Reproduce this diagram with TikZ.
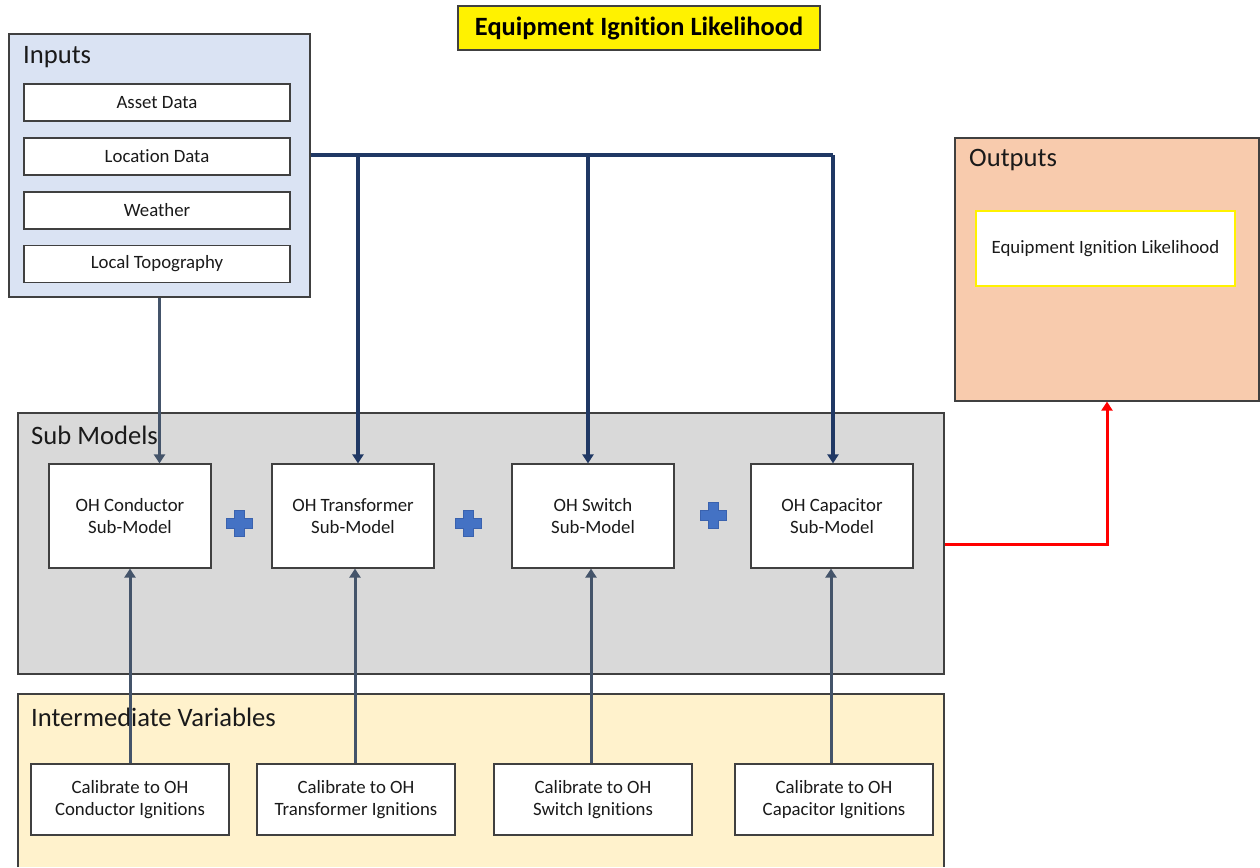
\documentclass[tikz,border=0pt]{standalone}
\usepackage{fontspec}
\setmainfont{Carlito}[Ligatures=NoCommon]
\usetikzlibrary{arrows.meta,calc}
\definecolor{boxline}{HTML}{404040}
\definecolor{txt}{HTML}{1A1A1A}
\definecolor{inpfill}{HTML}{DAE3F3}
\definecolor{outfill}{HTML}{F8CBAD}
\definecolor{subfill}{HTML}{D9D9D9}
\definecolor{intfill}{HTML}{FFF2CC}
\definecolor{grayblue}{HTML}{44546A}
\definecolor{darkblue}{HTML}{203864}
\definecolor{plusblue}{HTML}{4472C4}
\definecolor{plusedge}{HTML}{3A62AE}
\begin{document}
\begin{tikzpicture}[x=1pt,y=-1pt,
  box/.style={draw=boxline, line width=1.2pt, fill=white, text=txt, align=center,
    inner sep=0pt, font=\fontsize{18.8}{22}\selectfont},
  inbox/.style={box, minimum width=266pt, minimum height=37pt},
  subbox/.style={box, minimum width=162pt, minimum height=104pt},
  calbox/.style={box, minimum width=198pt, minimum height=71pt},
  grp/.style={draw=boxline, line width=1.2pt},
  hdr/.style={anchor=west, text=txt, inner sep=0pt, font=\fontsize{26.6}{30}\selectfont},
  arr/.style={line width=3pt, -{Triangle[length=9pt,width=11pt]}},
  plusshape/.style={fill=plusblue, draw=plusedge, line width=0.6pt}
]
\useasboundingbox (0,0) rectangle (1260,867);
\fill[white] (0,0) rectangle (1260,867);

% title
\node[draw=boxline, line width=1.2pt, fill=yellow, minimum width=362pt, minimum height=44pt,
  inner sep=0pt, font=\bfseries\fontsize{26.4}{30}\selectfont, text=black] (title) at (639,28)
  {Equipment Ignition Likelihood};

% group boxes
\node[grp, fill=inpfill, minimum width=301pt, minimum height=263pt, inner sep=0pt] (inputs) at (159.5,165.5) {};
\node[grp, fill=outfill, minimum width=304pt, minimum height=263pt, inner sep=0pt] (outputs) at (1107,269.5) {};
\node[grp, fill=subfill, minimum width=926pt, minimum height=261pt, inner sep=0pt] (submodels) at (481,543.5) {};
\fill[intfill] (18,694) rectangle (944,867);
\draw[boxline, line width=1.2pt] (18,867) -- (18,694) -- (944,694) -- (944,867);

% headers
\node[hdr] (hin) at (23,57) {Inputs};
\node[hdr] (hout) at (969,160) {Outputs};
\node[hdr] (hsub) at (31,435) {Sub Models};
\node[hdr] (hint) at (31,717) {Intermediate Variables};

% inputs
\node[inbox] (asset) at (157,102.5) {Asset Data};
\node[inbox] (loc) at (157,156.5) {Location Data};
\node[inbox] (weather) at (157,210.5) {Weather};
\node[inbox] (topo) at (157,264) {Local Topography};

% output
\node[box, draw=yellow, line width=1.5pt, minimum width=259pt, minimum height=75pt] (eil) at (1105.5,248.5)
  {Equipment Ignition Likelihood};

% sub models
\node[subbox] (sm1) at (130,516) {OH Conductor\\Sub-Model};
\node[subbox] (sm2) at (353,516) {OH Transformer\\Sub-Model};
\node[subbox] (sm3) at (593,516) {OH Switch\\Sub-Model};
\node[subbox] (sm4) at (832,516) {OH Capacitor\\Sub-Model};

% plus signs
\foreach \cx/\cy in {239.5/523, 468/523, 713/515}{
  \filldraw[plusshape, shift={(\cx,\cy)}]
    (-5,-13) -- (5,-13) -- (5,-5) -- (13,-5) -- (13,5) -- (5,5) -- (5,13) -- (-5,13)
    -- (-5,5) -- (-13,5) -- (-13,-5) -- (-5,-5) -- cycle;
}

% calibrate boxes
\node[calbox] (cal1) at (130,799.5) {Calibrate to OH\\Conductor Ignitions};
\node[calbox] (cal2) at (356,799.5) {Calibrate to OH\\Transformer Ignitions};
\node[calbox] (cal3) at (593,799.5) {Calibrate to OH\\Switch Ignitions};
\node[calbox] (cal4) at (834,799.5) {Calibrate to OH\\Capacitor Ignitions};

% connectors
\draw[arr, grayblue] (inputs.south) -- (inputs.south |- sm1.north);
\draw[line width=3.5pt, darkblue] (inputs.east |- 0,155) -- (833,155);
\draw[arr, darkblue, line width=3.5pt] (833,155) -- (833,155 |- sm4.north);
\draw[arr, darkblue, line width=3.5pt] (358,155) -- (358,155 |- sm2.north);
\draw[arr, darkblue, line width=3.5pt] (588,155) -- (588,155 |- sm3.north);

\draw[arr, grayblue] (cal1.north) -- (cal1.north |- sm1.south);
\draw[arr, grayblue] ([xshift=-1pt]cal2.north) -- ([xshift=-1pt]cal2.north |- sm2.south);
\draw[arr, grayblue] ([xshift=-2pt]cal3.north) -- ([xshift=-2pt]cal3.north |- sm3.south);
\draw[arr, grayblue] ([xshift=-3pt]cal4.north) -- ([xshift=-3pt]cal4.north |- sm4.south);

\draw[arr, red] (submodels.east |- 0,544) -| (outputs.south);
\end{tikzpicture}
\end{document}
